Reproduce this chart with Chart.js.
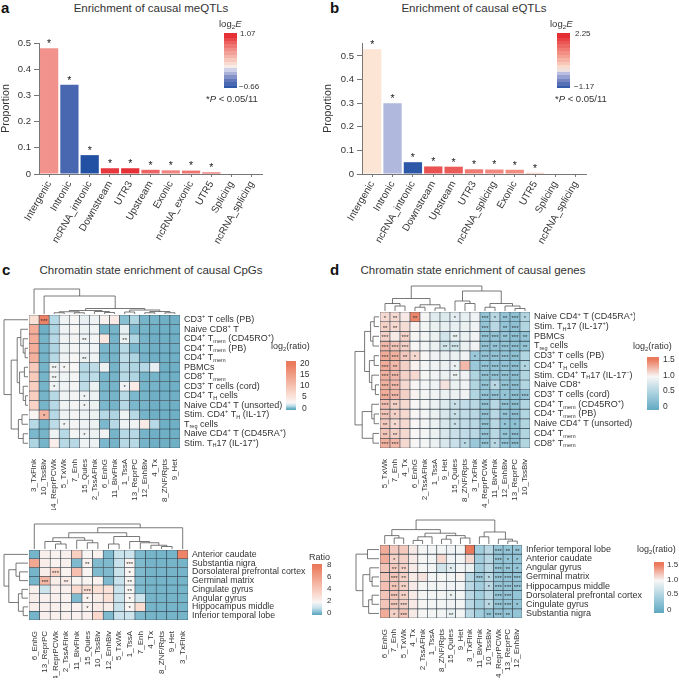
<!DOCTYPE html>
<html>
<head>
<meta charset="utf-8">
<script src="https://cdn.jsdelivr.net/npm/chart.js@4.4.0/dist/chart.umd.min.js"></script>
<style>
  body { margin: 0; width: 679px; height: 680px; background: #fff; position: relative; overflow: hidden;
         font-family: "Liberation Sans", Arial, sans-serif; color: #333; }
  canvas { position: absolute; }
  .t { position: absolute; white-space: nowrap; line-height: 1; }
  .letter { font-weight: bold; font-size: 15px; color: #111; }
  .title { font-size: 11.5px; text-align: center; width: 260px; }
  .leg { font-size: 9.5px; }
  .hleg { font-size: 9px; }
  .tick { font-size: 8px; }
  .htick { font-size: 8.5px; }
  sub { font-size: 65%; vertical-align: -2px; line-height: 0; }
</style>
</head>
<body>

<div class="t letter" style="left:1px;top:0px">a</div>
<div class="t title" style="left:21px;top:3px">Enrichment of causal meQTLs</div>
<div class="t letter" style="left:330px;top:0px">b</div>
<div class="t title" style="left:344px;top:3px">Enrichment of causal eQTLs</div>
<div class="t letter" style="left:2px;top:262px">c</div>
<div class="t title" style="left:21px;top:265px">Chromatin state enrichment of causal CpGs</div>
<div class="t letter" style="left:330px;top:262px">d</div>
<div class="t title" style="left:343px;top:265px">Chromatin state enrichment of causal genes</div>

<canvas id="chart-a" width="270" height="226" style="left:0;top:20px"></canvas>
<canvas id="chart-b" width="272" height="226" style="left:322px;top:20px"></canvas>
<canvas id="heat-c-top" width="287" height="223" style="left:3px;top:287px"></canvas>
<canvas id="heat-c-bottom" width="310" height="156" style="left:3px;top:522px"></canvas>
<canvas id="heat-d-top" width="282" height="224" style="left:353px;top:284px"></canvas>
<canvas id="heat-d-bottom" width="297" height="160" style="left:353px;top:518px"></canvas>

<!-- 색상 범례 -->
<div class="t leg" style="left:219px;top:19px">log<sub>2</sub><i>E</i></div>
<canvas id="bar-a" width="13" height="55" style="left:224px;top:33px"></canvas>
<div class="t tick" style="left:240px;top:30px">1.07</div>
<div class="t tick" style="left:239px;top:83px">&minus;0.66</div>
<div class="t leg" style="left:206px;top:94px">*<i>P</i> &lt; 0.05/11</div>

<div class="t leg" style="left:550px;top:19px">log<sub>2</sub><i>E</i></div>
<canvas id="bar-b" width="13" height="55" style="left:557px;top:33px"></canvas>
<div class="t tick" style="left:575px;top:30px">2.25</div>
<div class="t tick" style="left:574px;top:83px">&minus;1.17</div>
<div class="t leg" style="left:555px;top:94px">*<i>P</i> &lt; 0.05/11</div>

<div class="t hleg" style="left:271px;top:342px">log<sub>2</sub>(ratio)</div>
<canvas id="bar-c-top" width="10" height="49" style="left:286px;top:361px"></canvas>
<div class="t htick" style="left:300px;top:359px">20</div>
<div class="t htick" style="left:300px;top:370px">15</div>
<div class="t htick" style="left:300px;top:381px">10</div>
<div class="t htick" style="left:302px;top:392px">5</div>
<div class="t htick" style="left:302px;top:404px">0</div>

<div class="t hleg" style="left:309px;top:553px">Ratio</div>
<canvas id="bar-c-bottom" width="10" height="51" style="left:312px;top:564px"></canvas>
<div class="t tick" style="left:327px;top:561px">8</div>
<div class="t tick" style="left:327px;top:573px">6</div>
<div class="t tick" style="left:327px;top:585px">4</div>
<div class="t tick" style="left:327px;top:597px">2</div>
<div class="t tick" style="left:327px;top:609px">0</div>

<div class="t hleg" style="left:633px;top:342px">log<sub>2</sub>(ratio)</div>
<canvas id="bar-d-top" width="12" height="53" style="left:647px;top:357px"></canvas>
<div class="t htick" style="left:663px;top:355px">1.5</div>
<div class="t htick" style="left:663px;top:371px">1.0</div>
<div class="t htick" style="left:663px;top:386px">0.5</div>
<div class="t htick" style="left:663px;top:402px">0</div>

<div class="t hleg" style="left:637px;top:545px">log<sub>2</sub>(ratio)</div>
<canvas id="bar-d-bottom" width="10" height="51" style="left:654px;top:562px"></canvas>
<div class="t tick" style="left:667px;top:561px">1.5</div>
<div class="t tick" style="left:667px;top:576px">1.0</div>
<div class="t tick" style="left:667px;top:590px">0.5</div>
<div class="t tick" style="left:667px;top:606px">0</div>

<script>
const FONT = '"Liberation Sans", Arial, sans-serif';

// 막대 그래프 데이터 (a: meQTL, b: eQTL)
const meqtlCategories = ['Intergenic', 'Intronic', 'ncRNA_intronic', 'Downstream', 'UTR3', 'Upstream',
  'Exonic', 'ncRNA_exonic', 'UTR5', 'Splicing', 'ncRNA_splicing'];
const meqtlProportion = [0.48, 0.341, 0.072, 0.022, 0.022, 0.016, 0.014, 0.013, 0.006, 0, 0];
const meqtlLog2E = [0.55, -0.5, -0.66, 0.98, 1.02, 0.78, 0.63, 0.7, 0.85, 0, 0];
const meqtlSig = [1, 1, 1, 1, 1, 1, 1, 1, 1, 0, 0];

const eqtlCategories = ['Intergenic', 'Intronic', 'ncRNA_intronic', 'Downstream', 'Upstream', 'UTR3',
  'ncRNA_splicing', 'Exonic', 'UTR5', 'Splicing', 'ncRNA_splicing'];
const eqtlProportion = [0.528, 0.3, 0.05, 0.032, 0.031, 0.02, 0.019, 0.018, 0.005, 0, 0];
const eqtlLog2E = [0.1, -0.25, -1.1, 1.75, 1.65, 1.3, 1.15, 1.1, 0.65, 0, 0];
const eqtlSig = [1, 1, 1, 1, 1, 1, 1, 1, 1, 0, 0];

// 히트맵 c (CpG)
const cTopCols = ['3_TxFlnk', '10_TssBiv', '14_ReprPCWk', '5_TxWk', '7_Enh', '15_Quies', '2_TssAFlnk', '6_EnhG',
  '11_BivFlnk', '1_TssA', '13_ReprPC', '12_EnhBiv', '4_Tx', '8_ZNF/Rpts', '9_Het'];
const cTopRows = ['CD3^{+} T cells (PB)', 'Naive CD8^{+} T', 'CD4^{+} T_{mem} (CD45RO^{+})', 'CD4^{+} T_{mem} (PB)',
  'CD4^{+} T_{mem}', 'PBMCs', 'CD8^{+} T_{mem}', 'CD3^{+} T cells (cord)', 'CD4^{+} T_{H} cells',
  'Naive CD4^{+} T (unsorted)', 'Stim. CD4^{+} T_{H} (IL-17)', 'T_{reg} cells', 'Naive CD4^{+} T (CD45RA^{+})',
  'Stim. T_{H}17 (IL-17^{+})'];
const cTopValues = [
  [6, 19, 1.3, 2.6, 2.8, 2.4, 2.6, 3.5, 4.5, 0.6, 1.2, 0.3, 0.3, 0.2, 0.2],
  [13, 0.2, 1.2, 2.6, 2.8, 2.5, 2.6, 0.3, 0.3, 2.4, 0.4, 0.3, 0.2, 0.2, 0.2],
  [13, 0.3, 1.3, 2.6, 2.7, 2.6, 2.7, 5, 0.3, 2.5, 1.2, 0.3, 0.2, 0.2, 0.2],
  [13, 0.3, 1.2, 2.5, 2.7, 2.6, 2.6, 0.4, 0.3, 1.3, 0.4, 0.3, 0.2, 0.2, 0.2],
  [12.5, 0.3, 1.3, 2.6, 2.8, 2.5, 2.6, 0.4, 0.3, 1.4, 1.2, 0.3, 0.2, 0.2, 0.2],
  [9, 0.3, 2.6, 2.7, 2.8, 1.3, 1.4, 2.5, 0.3, 1.3, 1.2, 1.3, 2.4, 0.2, 0.2],
  [9, 0.3, 2.6, 2.6, 2.7, 1.3, 1.4, 0.4, 0.3, 1.3, 1.2, 0.3, 0.3, 0.2, 0.2],
  [8.5, 0.3, 2.6, 2.6, 2.7, 1.4, 2.5, 0.4, 0.3, 2.6, 4.5, 0.3, 0.3, 0.2, 0.2],
  [8.5, 0.3, 1.3, 2.6, 2.7, 2.6, 2.5, 0.4, 0.3, 1.3, 0.4, 0.3, 0.2, 0.2, 0.2],
  [8, 0.3, 1.3, 2.6, 2.7, 2.6, 2.5, 0.4, 0.3, 1.3, 0.4, 0.3, 0.2, 0.2, 0.2],
  [3, 12, 1.3, 2.6, 2.7, 2.6, 2.5, 1.3, 1.2, 2.6, 1.3, 0.3, 0.2, 0.2, 0.2],
  [1.3, 0.3, 1.4, 2.6, 2.7, 2.6, 2.5, 0.4, 1.3, 2.6, 2.6, 4.5, 1.3, 0.2, 0.2],
  [0.4, 0.3, 2.6, 1.3, 2.7, 2.6, 2.5, 2.6, 0.3, 1.3, 1.3, 0.3, 0.2, 0.2, 0.2],
  [1.2, 0.3, 4, 1.3, 1.3, 2.6, 2.5, 0.4, 0.3, 1.3, 1.3, 0.3, 0.2, 0.2, 0.2]
];
const cTopStars = ['030000000000000', '000000000000000', '000002000200000', '000000000000000',
  '000002000000000', '002100000000000', '002000000000000', '001000000100000', '000001000000000',
  '000001000000000', '010000000000000', '000100000000000', '000001000000000', '000000000000000'];
// 덴드로그램: [높이, 왼쪽, 오른쪽], 숫자는 잎 번호
const cTopColTree = [1, 0, [0.72, 1, [0.22, [0.14, [0.09, [0.05, 2, 3], [0.05, 4, 5]], [0.1, 6, [0.06, 7, 8]]],
  [0.16, [0.08, 9, 10], [0.1, [0.05, 11, 12], [0.05, 13, 14]]]]]];
const cTopRowTree = [1, 0, [0.7, [0.45, [0.3, 1, [0.2, 2, [0.12, 3, 4]]], [0.35, [0.15, 5, 6], [0.2, 7, [0.1, 8, 9]]]],
  [0.4, [0.25, 10, 11], [0.2, 12, 13]]]];

const cBottomCols = ['6_EnhG', '13_ReprPC', '14_ReprPCWk', '2_TssAFlnk', '11_BivFlnk', '15_Quies', '10_TssBiv',
  '12_EnhBiv', '5_TxWk', '1_TssA', '7_Enh', '4_Tx', '8_ZNF/Rpts', '9_Het', '3_TxFlnk'];
const cBottomRows = ['Anterior caudate', 'Substantia nigra', 'Dorsolateral prefrontal cortex', 'Germinal matrix',
  'Cingulate gyrus', 'Angular gyrus', 'Hippocampus middle', 'Inferior temporal lobe'];
const cBottomValues = [
  [0.2, 2.3, 2.2, 2.3, 3.8, 2.1, 2.2, 0.3, 1.1, 1.2, 0.3, 0.2, 0.2, 0.2, 7.5],
  [5.8, 2.4, 2.2, 2.3, 0.3, 2.2, 0.3, 0.3, 1.1, 2.2, 0.3, 0.2, 0.2, 0.2, 0.2],
  [0.2, 2.4, 3.6, 2.2, 4.6, 2.1, 0.3, 0.3, 1.1, 2.1, 0.3, 0.2, 0.2, 0.2, 0.2],
  [0.2, 5, 2.4, 2.5, 2.1, 2.1, 2.2, 0.3, 1.1, 2.1, 0.3, 0.2, 0.2, 0.2, 0.2],
  [2.3, 1.2, 2.3, 2.3, 3.3, 3.2, 3.0, 2.9, 1.1, 2.1, 0.3, 0.2, 0.2, 0.2, 0.2],
  [2.4, 2.3, 2.3, 2.2, 0.3, 2.2, 2.4, 3.0, 1.1, 2.1, 1.2, 0.2, 0.2, 0.2, 0.2],
  [2.4, 2.3, 2.3, 2.2, 2.2, 2.2, 2.5, 2.4, 1.1, 2.1, 3.2, 0.2, 0.2, 0.2, 0.2],
  [0.2, 2.3, 2.3, 2.3, 2.2, 2.3, 3.4, 0.3, 1.1, 1.2, 0.3, 0.2, 0.2, 0.2, 0.2]
];
const cBottomStars = ['000000000000000', '000002000300000', '003000000100000', '030200000200000',
  '000003000200000', '000001000100000', '000001000100000', '000000000000000'];
const cBottomColTree = [1, 0, [0.85, [0.65, [0.45, [0.3, 1, [0.2, 2, 3]], [0.35, 4, [0.25, 5, 6]]],
  [0.5, [0.2, 7, 8], [0.3, 9, [0.25, 10, [0.15, 11, [0.1, 12, 13]]]]]], 14]];
const cBottomRowTree = [1, 0, [0.8, [0.5, 1, [0.35, 2, 3]], [0.4, [0.25, 4, 5], [0.2, 6, 7]]]];

// 히트맵 d (genes)
const dTopCols = ['5_TxWk', '7_Enh', '4_Tx', '6_EnhG', '2_TssAFlnk', '1_TssA', '9_Het', '15_Quies', '8_ZNF/Rpts',
  '3_TxFlnk', '14_ReprPCWk', '11_BivFlnk', '12_EnhBiv', '13_ReprPC', '10_TssBiv'];
const dTopRows = ['Naive CD4^{+} T (CD45RA^{+})', 'Stim. T_{H}17 (IL-17^{+})', 'PBMCs', 'T_{reg} cells',
  'CD3^{+} T cells (PB)', 'CD4^{+} T_{H} cells', 'Stim. CD4^{+} T_{H}17 (IL-17^{\u2212})', 'Naive CD8^{+}',
  'CD3^{+} T cells (cord)', 'CD4^{+} T_{mem} (CD45RO^{+})', 'CD4^{+} T_{mem} (PB)', 'Naive CD4^{+} T (unsorted)',
  'CD4^{+} T_{mem}', 'CD8^{+} T_{mem}'];
const dTopValues = [
  [1.12, 1.12, 1.05, 1.45, 0.98, 0.85, 0.82, 0.88, 0.9, 0.95, 0.35, 0.6, 0.35, 0.3, 0.55],
  [1.15, 1.12, 1.1, 1.02, 0.97, 0.92, 0.9, 0.9, 0.92, 0.95, 0.35, 0.6, 0.35, 0.3, 0.55],
  [1.15, 1.05, 1.15, 0.98, 0.97, 0.92, 0.75, 0.9, 0.92, 0.95, 0.35, 0.35, 0.35, 0.3, 0.35],
  [1.25, 1.2, 1.15, 1.0, 0.97, 0.92, 0.75, 0.75, 0.92, 0.95, 0.35, 0.35, 0.35, 0.3, 0.35],
  [1.3, 1.28, 1.18, 1.12, 1.0, 0.95, 0.92, 0.92, 0.95, 0.4, 0.35, 0.35, 0.35, 0.3, 0.55],
  [1.3, 1.25, 1.15, 1.02, 0.97, 0.94, 0.92, 0.92, 1.25, 0.4, 0.35, 0.35, 0.35, 0.3, 0.55],
  [1.28, 1.25, 1.15, 1.12, 0.98, 0.95, 0.92, 0.92, 0.95, 0.55, 0.35, 0.35, 0.35, 0.3, 0.55],
  [1.28, 1.25, 1.12, 1.0, 0.97, 0.95, 1.08, 0.92, 0.95, 0.55, 0.35, 0.6, 0.35, 0.3, 0.55],
  [1.3, 1.25, 1.15, 1.02, 0.97, 0.95, 0.92, 0.92, 0.95, 0.55, 0.35, 0.35, 0.35, 0.3, 0.35],
  [1.22, 1.15, 1.12, 1.0, 0.97, 0.92, 0.82, 0.7, 0.65, 0.6, 0.35, 0.6, 0.35, 0.3, 0.55],
  [1.2, 1.15, 1.12, 1.0, 0.97, 0.92, 0.8, 0.7, 0.65, 0.6, 0.35, 0.6, 0.35, 0.3, 0.55],
  [1.18, 1.12, 1.12, 1.0, 0.97, 0.92, 0.8, 0.7, 0.65, 0.6, 0.35, 0.6, 0.35, 0.3, 0.55],
  [1.2, 1.15, 1.12, 1.0, 0.97, 0.92, 0.8, 0.7, 0.65, 0.6, 0.35, 0.6, 0.35, 0.3, 0.55],
  [1.28, 1.25, 1.12, 1.0, 0.97, 0.92, 0.8, 0.7, 0.6, 0.4, 0.35, 0.6, 0.35, 0.3, 0.55]
];
const dTopStars = ['120200010031231', '220000000030230', '303000020033232', '333000230032332',
  '332100000133330', '320000010033331', '330000020033330', '330000000031330', '330000000033133',
  '320000010030330', '310000010030230', '210000010030110', '220000000030230', '330000001031330'];
const dTopColTree = [1, [0.5, [0.3, 0, [0.2, 1, 2]], [0.25, [0.15, 3, 4], [0.12, 5, 6]]],
  [0.8, [0.4, 7, [0.3, 8, 9]], [0.3, [0.15, 10, 11], [0.2, 12, [0.1, 13, 14]]]]];
const dTopRowTree = [1, [0.6, [0.35, [0.2, 0, 1], [0.25, 2, 3]], [0.4, [0.2, 4, 5], [0.3, 6, [0.15, 7, 8]]]],
  [0.7, [0.3, 9, [0.2, 10, 11]], [0.25, 12, 13]]];

const dBottomCols = ['6_EnhG', '7_Enh', '5_TxWk', '4_Tx', '2_TssAFlnk', '1_TssA', '8_ZNF/Rpts', '15_Quies', '9_Het',
  '3_TxFlnk', '11_BivFlnk', '10_TssBiv', '14_ReprPCWk', '13_ReprPC', '12_EnhBiv'];
const dBottomRows = ['Inferior temporal lobe', 'Anterior caudate', 'Angular gyrus', 'Germinal matrix',
  'Hippocampus middle', 'Dorsolateral prefrontal cortex', 'Cingulate gyrus', 'Substantia nigra'];
const dBottomValues = [
  [1.3, 1.18, 1.18, 1.05, 0.98, 0.97, 0.97, 0.95, 0.97, 1.5, 0.45, 0.6, 0.35, 0.35, 0.35],
  [1.3, 1.15, 1.15, 1.05, 0.98, 0.97, 1.12, 0.95, 0.97, 1.12, 0.45, 0.6, 0.35, 0.35, 0.35],
  [1.2, 1.18, 1.15, 1.05, 0.98, 0.97, 0.75, 0.85, 0.97, 0.92, 0.45, 0.6, 0.35, 0.35, 0.35],
  [1.2, 1.2, 1.15, 1.05, 1.08, 0.97, 0.97, 0.95, 1.02, 0.6, 0.4, 0.6, 0.35, 0.35, 0.35],
  [1.22, 1.2, 1.15, 1.05, 0.98, 0.97, 0.97, 0.95, 0.97, 0.6, 0.45, 0.6, 0.35, 0.35, 0.35],
  [1.2, 1.2, 1.15, 1.05, 0.98, 0.97, 0.97, 0.92, 0.97, 0.6, 0.45, 0.6, 0.35, 0.35, 0.35],
  [1.2, 1.18, 1.15, 1.05, 0.98, 0.97, 0.97, 0.95, 0.97, 0.6, 0.45, 0.6, 0.35, 0.35, 0.35],
  [1.3, 1.15, 1.2, 1.05, 0.98, 0.97, 0.97, 0.9, 0.97, 0.6, 0.45, 0.35, 0.35, 0.35, 0.35]
];
const dBottomStars = ['000000000000322', '010000000000311', '022000010000321', '032000000031333',
  '022000000001333', '032000010000330', '033000000001331', '013000020002320'];
const dBottomColTree = [1, [0.6, [0.35, 0, [0.25, 1, 2]], [0.45, [0.3, [0.15, 3, 4], 5], [0.35, [0.2, 6, 7], [0.25, 8, 9]]]],
  [0.5, [0.3, 10, 11], [0.2, 12, [0.12, 13, 14]]]];
const dBottomRowTree = [1, [0.5, 0, 1], [0.7, [0.4, 2, [0.3, 3, 4]], [0.45, [0.3, 5, 6], 7]]];

// 색상 스케일
const cmapA = [[-0.66, '#2250a3'], [-0.35, '#6d7dbf'], [-0.05, '#d4d6ec'], [0.05, '#fbeee6'],
  [0.3, '#f6c0b4'], [0.6, '#f08a84'], [1.07, '#e4252c']];
const cmapB = [[-1.17, '#2250a3'], [-0.7, '#6d7dbf'], [-0.1, '#c8cbe8'], [0.05, '#fde9da'],
  [0.6, '#f7b8a8'], [1.3, '#ef7a72'], [2.25, '#e4252c']];
const cmapCTop = [[0, '#62a9c2'], [1.5, '#c4e0ea'], [2.8, '#f8f6f5'], [6, '#fbe0d6'], [20, '#eb7a5c']];
const cmapCBottom = [[0, '#62a9c2'], [1, '#c4e0ea'], [2, '#f8f6f5'], [3, '#fbe0d6'], [8, '#eb7a5c']];
const cmapD = [[0, '#62a9c2'], [0.5, '#a9d1df'], [1, '#f8f6f5'], [1.5, '#eb7a5c']];

function hexToRgb(h) {
  const n = parseInt(h.slice(1), 16);
  return [(n >> 16) & 255, (n >> 8) & 255, n & 255];
}

function colorAt(stops, v) {
  if (v <= stops[0][0]) return stops[0][1];
  for (let i = 1; i < stops.length; i++) {
    if (v <= stops[i][0]) {
      const [v0, c0] = stops[i - 1];
      const [v1, c1] = stops[i];
      const t = (v - v0) / (v1 - v0);
      const a = hexToRgb(c0), b = hexToRgb(c1);
      return `rgb(${a.map((x, k) => Math.round(x + (b[k] - x) * t)).join(',')})`;
    }
  }
  return stops[stops.length - 1][1];
}

// 색상 막대 (범례)
function drawColorbar(id, stops, vmin, vmax, bands) {
  const c = document.getElementById(id);
  const ctx = c.getContext('2d');
  const n = bands || c.height;
  for (let i = 0; i < n; i++) {
    const v = vmin + (vmax - vmin) * (i + 0.5) / n;
    ctx.fillStyle = colorAt(stops, v);
    const y0 = c.height - c.height * (i + 1) / n;
    ctx.fillRect(0, Math.floor(y0), c.width, Math.ceil(c.height / n) + 1);
  }
}

// 위첨자/아래첨자 텍스트
function drawRich(ctx, text, x, y, size) {
  const parts = text.split(/(\^\{[^}]*\}|_\{[^}]*\})/).filter(Boolean);
  let cx = x;
  parts.forEach(p => {
    let s = size, dy = 0, t = p;
    if (p[0] === '^') { t = p.slice(2, -1); s = size * 0.62; dy = -size * 0.32; }
    else if (p[0] === '_') { t = p.slice(2, -1); s = size * 0.62; dy = size * 0.3; }
    ctx.font = `${s}px ${FONT}`;
    ctx.fillText(t, cx, y + dy);
    cx += ctx.measureText(t).width;
  });
}

// 덴드로그램 좌표 계산
function walkTree(node, leafPos, segs) {
  if (typeof node === 'number') return { p: leafPos(node), h: 0 };
  const [h, l, r] = node;
  const L = walkTree(l, leafPos, segs);
  const R = walkTree(r, leafPos, segs);
  segs.push([L.p, L.h, R.p, R.h, h]);
  return { p: (L.p + R.p) / 2, h };
}

// 막대 위 별표
const barStars = {
  id: 'barStars',
  afterDatasetsDraw(chart, args, opts) {
    const { ctx } = chart;
    const meta = chart.getDatasetMeta(0);
    ctx.save();
    ctx.fillStyle = '#222';
    ctx.font = `10.5px ${FONT}`;
    ctx.textAlign = 'center';
    ctx.textBaseline = 'middle';
    meta.data.forEach((bar, i) => {
      if (opts.flags[i]) ctx.fillText('*', bar.x, bar.y - 4);
    });
    ctx.restore();
  }
};

// 히트맵 부가 요소: 별표, 행 라벨, 덴드로그램
const heatExtras = {
  id: 'heatExtras',
  afterDatasetsDraw(chart, args, opts) {
    const { ctx, chartArea: a, scales: { x, y } } = chart;
    ctx.save();
    // 유의성 별표
    ctx.fillStyle = '#333';
    ctx.font = `6px ${FONT}`;
    ctx.textAlign = 'center';
    ctx.textBaseline = 'middle';
    opts.stars.forEach((row, i) => {
      [...row].forEach((c, j) => {
        const n = +c;
        if (n) ctx.fillText('*'.repeat(n), x.getPixelForValue(j), y.getPixelForValue(i + 0.5) + 1.5);
      });
    });
    // 행 라벨
    ctx.fillStyle = '#333';
    ctx.textAlign = 'left';
    opts.rowLabels.forEach((lab, i) => {
      drawRich(ctx, lab, a.right + 4, y.getPixelForValue(i + 0.5), opts.labelSize);
    });
    // 덴드로그램
    ctx.strokeStyle = '#555';
    ctx.lineWidth = 0.8;
    const colSegs = [];
    walkTree(opts.colTree, j => x.getPixelForValue(j), colSegs);
    const ch = (h) => a.top - 1 - h * opts.dendH;
    ctx.beginPath();
    colSegs.forEach(([p1, h1, p2, h2, h]) => {
      ctx.moveTo(p1, ch(h1)); ctx.lineTo(p1, ch(h)); ctx.lineTo(p2, ch(h)); ctx.lineTo(p2, ch(h2));
    });
    ctx.stroke();
    const rowSegs = [];
    walkTree(opts.rowTree, i => y.getPixelForValue(i + 0.5), rowSegs);
    const rw = (h) => a.left - 1 - h * opts.dendW;
    ctx.beginPath();
    rowSegs.forEach(([p1, h1, p2, h2, h]) => {
      ctx.moveTo(rw(h1), p1); ctx.lineTo(rw(h), p1); ctx.lineTo(rw(h), p2); ctx.lineTo(rw(h2), p2);
    });
    ctx.stroke();
    ctx.restore();
  }
};

Chart.defaults.font.family = FONT;
Chart.defaults.color = '#333';

function createBarChart(id, labels, values, log2e, sig, cmap, yMax, yWidth) {
  return new Chart(document.getElementById(id), {
    type: 'bar',
    data: {
      labels,
      datasets: [{
        data: values,
        backgroundColor: log2e.map(v => colorAt(cmap, v)),
        barPercentage: 0.9,
        categoryPercentage: 1
      }]
    },
    options: {
      responsive: false,
      animation: false,
      layout: { padding: { top: 23, right: 8 } },
      plugins: { legend: { display: false }, tooltip: { enabled: false }, barStars: { flags: sig } },
      scales: {
        x: {
          grid: { display: true, offset: false, drawOnChartArea: false, drawTicks: true, tickLength: 3, color: '#777' },
          border: { display: true, color: '#777' },
          ticks: { autoSkip: false, minRotation: 60, maxRotation: 60, font: { size: 10 }, color: '#333', padding: 2 },
          afterFit: s => { s.height = 72; }
        },
        y: {
          min: 0,
          max: yMax,
          ticks: {
            stepSize: 0.1, includeBounds: false, font: { size: 9.5 }, color: '#333', padding: 3,
            callback: v => (v === 0 ? '0' : v.toFixed(1))
          },
          grid: { drawOnChartArea: false, tickLength: 5, color: '#777' },
          border: { display: true, color: '#777' },
          title: { display: true, text: 'Proportion', font: { size: 10.5 }, color: '#333', padding: 0 },
          afterFit: s => { s.width = yWidth; }
        }
      }
    },
    plugins: [barStars]
  });
}

function createHeatmap(id, cols, rows, values, stars, colTree, rowTree, cmap, pad, xh, dendH, dendW, labelSize) {
  const datasets = rows.map((r, i) => ({
    label: r,
    data: cols.map(() => [i, i + 1]),
    backgroundColor: values[i].map(v => colorAt(cmap, v)),
    borderColor: '#2e3d47',
    borderWidth: 0.6,
    borderSkipped: false,
    barPercentage: 1,
    categoryPercentage: 1,
    grouped: false
  }));
  return new Chart(document.getElementById(id), {
    type: 'bar',
    data: { labels: cols, datasets },
    options: {
      responsive: false,
      animation: false,
      layout: { padding: pad },
      plugins: {
        legend: { display: false },
        tooltip: { enabled: false },
        heatExtras: { stars, rowLabels: rows, colTree, rowTree, dendH, dendW, labelSize }
      },
      scales: {
        x: {
          offset: true,
          grid: { display: false },
          border: { display: false },
          ticks: { autoSkip: false, minRotation: 90, maxRotation: 90, font: { size: 8 }, color: '#333', padding: 3 },
          afterFit: s => { s.height = xh; }
        },
        y: { type: 'linear', min: 0, max: rows.length, reverse: true, display: false }
      }
    },
    plugins: [heatExtras]
  });
}

createBarChart('chart-a', meqtlCategories, meqtlProportion, meqtlLog2E, meqtlSig, cmapA, 0.5, 39);
createBarChart('chart-b', eqtlCategories, eqtlProportion, eqtlLog2E, eqtlSig, cmapB, 0.555, 40);

createHeatmap('heat-c-top', cTopCols, cTopRows, cTopValues, cTopStars, cTopColTree, cTopRowTree, cmapCTop,
  { left: 26, top: 28, right: 110 }, 62, 25, 24, 9);
createHeatmap('heat-c-bottom', cBottomCols, cBottomRows, cBottomValues, cBottomStars, cBottomColTree, cBottomRowTree,
  cmapCBottom, { left: 26, top: 28, right: 125 }, 58, 25, 24, 8.8);
createHeatmap('heat-d-top', dTopCols, dTopRows, dTopValues, dTopStars, dTopColTree, dTopRowTree, cmapD,
  { left: 27, top: 28, right: 105 }, 60, 25, 24, 9);
createHeatmap('heat-d-bottom', dBottomCols, dBottomRows, dBottomValues, dBottomStars, dBottomColTree, dBottomRowTree,
  cmapD, { left: 27, top: 27, right: 128 }, 60, 24, 23, 9);

drawColorbar('bar-a', cmapA, -0.66, 1.07, 16);
drawColorbar('bar-b', cmapB, -1.17, 2.25, 16);
drawColorbar('bar-c-top', cmapCTop, -0.9, 20.9);
drawColorbar('bar-c-bottom', cmapCBottom, -0.3, 8.2);
drawColorbar('bar-d-top', cmapD, -0.03, 1.55);
drawColorbar('bar-d-bottom', cmapD, -0.05, 1.55);
</script>
</body>
</html>
